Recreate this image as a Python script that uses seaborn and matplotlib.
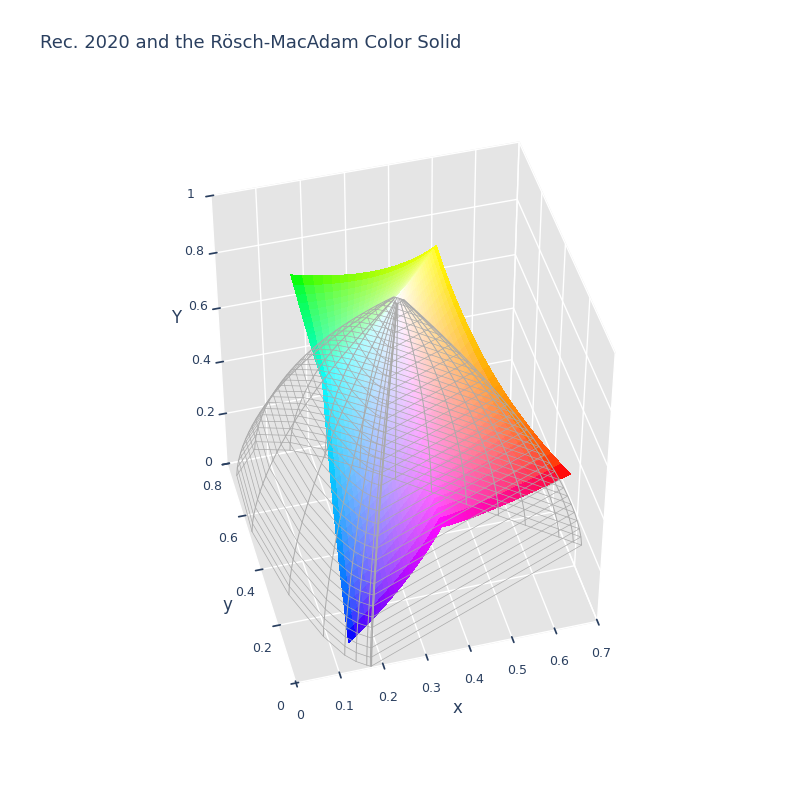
import matplotlib
matplotlib.use("Agg")
import matplotlib.pyplot as plt
import seaborn as sns
import numpy as np

sns.set_theme(style="white")
plt.rcParams['font.family'] = ['DejaVu Sans']

# Rec. 2020 RGB -> XYZ matrix
rec2020_matrix = np.array([[0.6370, 0.1446, 0.1689],
                           [0.2627, 0.6780, 0.0593],
                           [0.0000, 0.0281, 1.0610]])

# CIE 1931 spectral locus chromaticities (380-700 nm)
locus_x = [0.1741, 0.1714, 0.1644, 0.1440, 0.1241, 0.0913, 0.0454, 0.0082, 0.0139,
           0.0743, 0.1547, 0.2296, 0.3016, 0.3731, 0.4441, 0.5125, 0.5752, 0.6270,
           0.6915, 0.7190, 0.7347]
locus_y = [0.0050, 0.0051, 0.0109, 0.0297, 0.0578, 0.1327, 0.2950, 0.5384, 0.7502,
           0.8338, 0.8059, 0.7543, 0.6923, 0.6245, 0.5547, 0.4866, 0.4242, 0.3725,
           0.3083, 0.2809, 0.2653]
white_xy = (0.3127, 0.3290)

fig = plt.figure(figsize=(8, 8), dpi=100)
ax = fig.add_subplot(111, projection='3d', computed_zorder=False)

# Rec. 2020 cube: the three bright faces (R=1, G=1, B=1) in xyY
n = 25
t = np.linspace(0.001, 1, n)
u, v = np.meshgrid(t, t)
for axis in (2, 0, 1):
    rgb = np.zeros((n, n, 3))
    others = [i for i in range(3) if i != axis]
    rgb[..., axis] = 1.0
    rgb[..., others[0]] = u
    rgb[..., others[1]] = v
    xyz = rgb @ rec2020_matrix.T
    s = xyz.sum(axis=2)
    cx, cy, cY = xyz[..., 0] / s, xyz[..., 1] / s, xyz[..., 1]
    col = np.clip(rgb, 0, 1) ** (1 / 2.2)
    ax.plot_surface(cx, cy, cY, facecolors=col, shade=False, zorder=1,
                    linewidth=0, antialiased=False, rstride=1, cstride=1)

# Rösch-MacAdam solid, gray wireframe from locus to white
levels = np.linspace(0, 0.98, 30)
lx = np.append(locus_x, locus_x[0])
ly = np.append(locus_y, locus_y[0])
for lev in levels:
    k = lev ** 1.5
    ax.plot(lx + (white_xy[0] - lx) * k, ly + (white_xy[1] - ly) * k,
            np.full(len(lx), lev), color='#aaaaaa', lw=0.5, zorder=2)
for px, py in zip(lx, ly):
    k = levels ** 1.5
    ax.plot(px + (white_xy[0] - px) * k, py + (white_xy[1] - py) * k,
            levels, color='#aaaaaa', lw=0.7, zorder=2)

ax.set_xlim(0, 0.7)
ax.set_ylim(0, 0.8)
ax.set_zlim(0, 1)
ax.set_xticks([0, 0.1, 0.2, 0.3, 0.4, 0.5, 0.6, 0.7])
ax.set_yticks([0, 0.2, 0.4, 0.6, 0.8])
ax.set_zticks([0, 0.2, 0.4, 0.6, 0.8, 1])
ax.set_xticklabels(['0', '0.1', '0.2', '0.3', '0.4', '0.5', '0.6', '0.7'])
ax.set_yticklabels(['0', '0.2', '0.4', '0.6', '0.8'])
ax.set_zticklabels(['0', '0.2', '0.4', '0.6', '0.8', '1'])
ax.set_xlabel('x', color='#2a3f5f')
ax.set_ylabel('y', color='#2a3f5f')
ax.set_zlabel('Y', color='#2a3f5f')
ax.tick_params(labelsize=9, colors='#2a3f5f')
for a in (ax.xaxis, ax.yaxis, ax.zaxis):
    a.set_pane_color((0.898, 0.898, 0.898, 1.0))
    a._axinfo['grid']['color'] = 'white'
    a.line.set_color((1, 1, 1, 0))
ax.set_box_aspect((1, 1, 1.2))
ax.view_init(elev=45, azim=-105)

fig.text(0.05, 0.94, 'Rec. 2020 and the Rösch-MacAdam Color Solid',
         fontsize=13, color='#2a3f5f')
plt.subplots_adjust(left=0.14, right=0.86, bottom=0.12, top=0.83)
plt.savefig('out.png', dpi=100)
plt.close()
